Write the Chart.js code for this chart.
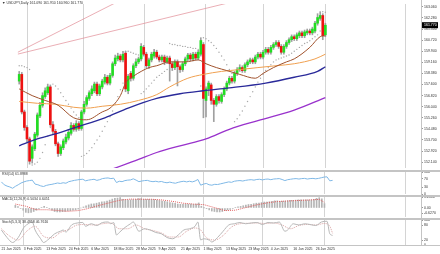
<!DOCTYPE html>
<html>
<head>
<meta charset="utf-8">
<script src="https://cdn.jsdelivr.net/npm/chart.js"></script>
<style>
body{margin:0;background:#fff;width:440px;height:254px;overflow:hidden;position:relative;font-family:"Liberation Sans",sans-serif}
canvas{position:absolute;left:0}
.sep{position:absolute;left:0;width:440px;height:2px;background:#c4c4c4}
.vsep{position:absolute;left:421px;top:0;width:1px;height:246px;background:#c4c4c4}
.lbl{position:absolute;left:2px;font-size:3.5px;color:#333;white-space:nowrap;line-height:5px}
</style>
</head>
<body>
<canvas id="cMain" width="440" height="172" style="top:0"></canvas>
<canvas id="cRsi" width="440" height="30" style="top:168px"></canvas>
<canvas id="cMacd" width="440" height="28" style="top:193px"></canvas>
<canvas id="cSto" width="440" height="38" style="top:216px"></canvas>
<div class="sep" style="top:170px"></div>
<div class="sep" style="top:195px"></div>
<div class="sep" style="top:218px"></div>
<div class="sep" style="top:245px;height:1px"></div>
<div class="vsep"></div>
<div class="lbl" id="tMain" style="top:1px"></div>
<div class="lbl" id="tRsi" style="top:172px"></div>
<div class="lbl" id="tMacd" style="top:197px"></div>
<div class="lbl" id="tSto" style="top:220px"></div>
<script>
// x axis
const tickIdx = [0, 8, 16, 24, 32, 40, 48, 56, 64, 72, 80, 88, 96, 104, 112];
const tickLabels = ['21 Jan 2025', '3 Feb 2025', '13 Feb 2025', '24 Feb 2025', '6 Mar 2025', '18 Mar 2025', '28 Mar 2025',
  '9 Apr 2025', '21 Apr 2025', '1 May 2025', '13 May 2025', '23 May 2025', '4 Jun 2025', '16 Jun 2025', '26 Jun 2025'];
const monthStarts = [8, 28, 50, 72, 93, 115, 144];
const priceTicks = [163.060, 162.280, 161.500, 160.720, 159.940, 159.160, 158.380, 157.600, 156.820, 156.040, 155.260, 154.480, 153.700, 152.920, 152.140];

// candles
const open = [157.84,158.31,155.67,154.58,153.77,152.41,153.09,154.04,155.39,156.14,156.75,157.02,157.43,154.78,154.31,153.43,
  152.75,153.16,153.56,153.84,154.17,154.72,154.45,154.85,154.51,155.67,156.21,156.62,156.95,157.16,157.63,156.95,157.43,157.77,158.11,157.70,
  158.24,159.06,159.40,159.60,159.33,159.80,157.16,158.38,158.04,158.92,159.19,159.40,160.21,159.73,158.92,159.33,159.60,
  159.87,159.53,159.33,159.53,159.19,159.46,159.06,158.79,159.19,158.85,158.65,159.06,159.40,159.67,159.40,159.73,159.46,
  159.73,160.41,156.48,157.29,157.57,156.48,156.21,156.75,156.41,156.89,157.29,157.70,158.04,157.84,158.38,158.65,158.79,158.58,158.99,159.19,
  159.33,159.19,159.53,159.73,159.53,159.87,160.07,159.87,160.21,160.41,160.55,160.28,159.87,160.28,160.55,160.75,160.96,160.82,161.03,161.23,
  161.03,161.23,161.36,161.23,161.36,161.91,162.25,162.45,161.09];
const high = [158.52,158.45,155.80,154.72,153.90,153.36,154.24,155.60,156.34,157.02,157.36,157.63,157.57,154.99,154.45,153.56,
  153.36,153.77,154.11,154.45,154.92,154.85,155.06,154.99,155.80,156.41,156.82,157.16,157.50,157.77,157.77,157.63,157.97,158.31,158.24,158.38,
  159.19,159.67,159.80,159.73,159.94,159.94,158.31,158.52,159.06,159.40,159.53,160.48,160.35,159.87,159.46,159.87,160.07,
  160.01,159.67,159.67,159.67,159.60,159.60,159.19,159.33,159.33,158.99,159.19,159.53,159.80,159.80,159.87,159.87,160.01,
  160.89,160.55,157.43,157.84,157.70,156.62,156.89,156.89,157.02,157.43,157.84,158.18,158.18,158.52,158.79,158.99,158.92,159.12,159.33,159.46,
  159.46,159.67,159.87,159.87,160.01,160.21,160.21,160.35,160.55,160.69,160.69,160.41,160.41,160.69,160.89,161.09,161.09,161.23,161.36,161.36,
  161.43,161.50,161.50,161.63,162.04,162.58,162.72,162.58,161.91];
const low = [157.63,155.53,154.38,153.56,152.00,152.07,152.95,153.90,155.26,156.00,156.62,156.89,154.65,154.11,153.29,152.55,
  152.61,153.02,153.43,153.70,154.04,154.31,154.31,154.38,154.38,155.53,156.07,156.48,156.82,157.02,156.82,156.82,157.29,157.63,157.57,157.57,
  158.11,158.92,159.26,159.19,159.19,157.09,156.95,157.84,157.90,158.79,159.06,159.26,159.60,158.79,158.72,159.19,159.46,
  159.40,159.19,159.19,158.99,159.06,157.84,158.58,158.65,157.50,158.45,158.52,158.92,159.26,159.26,159.26,159.33,159.33,
  159.60,155.26,155.32,156.82,156.21,154.99,156.07,156.28,156.28,156.75,157.16,157.57,157.70,157.70,158.24,158.52,158.45,158.45,158.85,159.06,
  159.06,159.06,159.40,159.40,159.40,159.73,159.73,159.73,160.07,160.28,160.14,159.73,159.73,160.14,160.41,160.62,160.69,160.69,160.89,160.89,
  160.89,161.09,161.09,161.09,161.23,161.77,162.11,160.75,160.96];
const close = [158.31,155.67,154.58,153.77,152.21,153.22,154.11,155.46,156.14,156.82,157.16,157.43,154.78,154.31,153.43,152.75,
  153.22,153.63,153.90,154.24,154.72,154.45,154.85,154.51,155.67,156.21,156.68,157.02,157.29,157.63,156.95,157.50,157.84,158.11,157.70,158.24,
  159.06,159.46,159.60,159.33,159.73,157.29,158.18,158.04,158.92,159.19,159.40,160.28,159.73,158.92,159.33,159.73,159.87,
  159.53,159.33,159.53,159.19,159.46,159.06,158.79,159.19,158.85,158.65,159.06,159.40,159.67,159.40,159.73,159.46,159.87,
  160.69,156.62,157.29,157.70,156.48,156.21,156.75,156.48,156.89,157.29,157.70,158.04,157.84,158.38,158.65,158.79,158.58,158.99,159.19,159.33,
  159.19,159.53,159.73,159.53,159.87,160.07,159.87,160.21,160.41,160.55,160.28,159.87,160.28,160.55,160.75,160.96,160.82,161.09,161.23,161.03,
  161.30,161.36,161.23,161.50,161.91,162.31,162.45,161.03,161.77];

// moving averages, [bar, value]
const maFast = [[0,157.29],[5,156.82],[10,156.48],[15,156.14],[21,155.26],[26,155.12],[32,155.67],[35,155.94],[39,156.82],[41,157.70],[44,158.18],
  [47,158.52],[50,158.79],[53,158.92],[58,159.19],[64,159.19],[69,159.33],[72,159.06],[76,158.79],[80,158.58],[85,158.31],[91,158.04],[94,158.38],
  [98,158.79],[103,159.19],[106,159.40],[112,160.21],[116,160.96],[118,161.03]];
const maMid = [[0,156.41],[7,156.28],[14,156.21],[21,156.00],[26,155.94],[32,156.07],[39,156.21],[46,156.48],[53,156.89],[58,157.43],[65,158.04],
  [71,158.31],[78,158.52],[85,158.65],[92,158.79],[99,158.92],[106,159.06],[114,159.40],[118,159.73]];
const maSlow = [[0,153.29],[7,153.77],[16,154.24],[23,154.65],[33,155.26],[42,155.94],[53,156.62],[62,156.95],[71,157.16],[81,157.36],[95,157.70],
  [106,158.11],[115,158.52],[118,158.85]];
const maLong = [[30,151.30],[35,151.60],[46,152.34],[53,152.82],[62,153.29],[72,153.77],[81,154.45],[92,155.06],[106,155.80],[118,156.68]];
const sar = [158.92,158.92,158.85,158.79,158.65,151.94,152.01,152.14,152.41,152.82,153.36,153.97,154.58,
  157.63,157.50,157.29,157.02,156.75,156.48,156.21,155.94,155.67,155.46,155.26,
  152.55,152.62,152.75,152.95,153.16,153.43,153.70,153.97,154.31,154.65,154.99,155.33,155.74,156.21,156.75,157.23,157.70,
  159.94,159.94,159.87,159.80,159.73,159.67,156.96,157.09,157.29,157.50,157.70,157.90,158.11,158.24,158.38,158.52,158.65,
  160.48,160.41,160.41,160.34,160.34,160.28,160.28,160.21,160.21,160.14,160.14,160.07,157.50,
  160.89,160.82,160.68,160.55,160.34,160.14,159.87,159.60,159.33,158.99,158.65,158.38,
  154.99,155.19,155.46,155.74,156.07,156.41,156.75,157.09,157.43,157.77,158.04,158.31,158.58,158.79,158.99,159.19,159.33,
  159.40,159.46,159.53,159.60,159.67,159.80,159.94,160.07,160.21,160.34,160.48,160.55,160.68,160.82,160.96,161.09,161.36,162.72,162.68];
const trend1 = [[-0.5,159.87],[60,165.46]];
const trend2 = [[-0.5,159.74],[100,164.20]];

// indicators
const rsi = [55,42,36,32,26,35,42,50,55,59,61,63,45,42,37,34,39,42,44,47,50,48,51,49,56,59,62,64,66,67,60,63,65,67,62,65,70,72,73,70,72,
  52,58,56,61,63,64,69,63,56,59,61,62,58,56,58,55,57,53,51,54,51,49,53,56,58,55,58,55,59,
  66,40,45,48,42,40,44,43,46,49,52,55,53,58,60,61,59,62,64,65,63,66,67,64,67,68,65,68,69,70,66,61,65,67,69,70,68,70,71,68,70,71,69,71,74,77,78,60,61.8988];
const rsiTicks = [100, 70, 30, 0];
const macd = [0.30,0.15,-0.05,-0.25,-0.50,-0.55,-0.50,-0.40,-0.25,-0.10,0.05,0.18,0.05,-0.08,-0.25,-0.40,-0.45,-0.45,-0.42,-0.38,-0.32,-0.30,-0.25,-0.22,
  -0.12,0.00,0.12,0.25,0.36,0.46,0.48,0.55,0.62,0.70,0.72,0.78,0.90,1.02,1.10,1.13,1.18,1.00,0.95,0.90,0.93,0.96,0.98,1.08,1.08,1.00,0.98,0.98,1.00,
  0.96,0.90,0.86,0.80,0.76,0.70,0.62,0.58,0.52,0.45,0.42,0.42,0.44,0.42,0.44,0.42,0.45,
  0.58,0.20,0.02,-0.08,-0.22,-0.35,-0.40,-0.45,-0.45,-0.40,-0.32,-0.22,-0.15,-0.05,0.05,0.14,0.18,0.26,0.34,0.40,0.43,0.49,0.55,0.57,0.62,0.68,0.68,
  0.72,0.77,0.82,0.82,0.77,0.78,0.80,0.84,0.88,0.88,0.90,0.93,0.92,0.93,0.94,0.92,0.93,1.00,1.10,1.18,1.05,0.5034];
const macdSignal = [[0,0.45],[4,0.20],[8,-0.20],[12,-0.20],[16,-0.28],[20,-0.38],[24,-0.30],[28,-0.05],[32,0.30],[36,0.60],[40,0.90],[44,1.02],[48,1.00],
  [52,1.00],[56,0.92],[60,0.76],[64,0.55],[68,0.45],[72,0.38],[76,0.05],[80,-0.30],[84,-0.25],[88,0.05],[92,0.35],[96,0.58],[100,0.74],[104,0.80],
  [108,0.86],[112,0.91],[116,0.98],[118,0.6451]];
const macdTicks = [1.258, 0, -0.627];
const stoMain = [[0,60],[2,30],[4,10],[6,30],[8,70],[10,88],[11,92],[12,60],[14,25],[15,10],[17,25],[19,45],[21,55],[22,60],[23,52],[25,80],[27,88],
  [29,90],[30,75],[32,85],[34,78],[36,90],[38,92],[39,85],[40,90],[41,40],[42,50],[44,70],[46,85],[47,92],[49,55],[51,65],[53,60],[55,50],[57,45],
  [59,30],[61,25],[63,40],[65,60],[67,65],[69,75],[70,92],[71,20],[72,25],[74,20],[75,12],[77,30],[79,55],[81,80],[83,85],[85,90],[87,85],[89,88],
  [91,90],[93,82],[95,90],[97,88],[99,92],[101,55],[102,60],[104,85],[106,80],[108,85],[110,82],[112,78],[114,92],[116,95],[117,45],[118,38.4958]];
const stoSignal = [[0,65],[3,35],[6,20],[9,55],[12,75],[15,35],[18,28],[21,50],[24,62],[27,80],[30,82],[33,80],[36,85],[39,88],[42,65],[45,65],
  [48,80],[51,65],[54,58],[57,48],[60,32],[63,32],[66,55],[69,68],[71,60],[73,30],[76,20],[79,38],[82,72],[85,85],[88,87],[91,88],[94,86],[97,88],
  [100,80],[103,65],[106,78],[109,82],[112,80],[115,86],[117,75],[118,46.7616]];
const stoTicks = [100, 80, 20, 0];

const FONT = {family: 'Liberation Sans', size: 3.5};
const pts = arr => arr.map(p => ({x: p[0], y: p[1]}));
const series = arr => arr.map((v, i) => ({x: i, y: v}));
const noPad = s => { s.paddingTop = 0; s.paddingBottom = 0; s.paddingLeft = 0; s.paddingRight = 0; };

function xScales(showLabels) {
  return {
    x: {
      type: 'linear', min: -0.5, max: 149.5,
      grid: {display: false, drawTicks: false}, border: {display: false},
      afterBuildTicks: s => { s.ticks = tickIdx.map(v => ({value: v})); },
      ticks: {display: showLabels, autoSkip: false, maxRotation: 0, align: 'start', padding: 2, font: FONT, color: '#333',
        callback: v => tickLabels[tickIdx.indexOf(v)]},
      afterFit: s => { s.height = showLabels ? 9 : 0; noPad(s); }
    },
    xg: {
      type: 'linear', min: -0.5, max: 149.5,
      afterBuildTicks: s => { s.ticks = monthStarts.map(v => ({value: v})); },
      grid: {color: '#d4d4d4', drawTicks: false}, border: {display: false},
      ticks: {display: false},
      afterFit: s => { s.height = 0; noPad(s); }
    }
  };
}

function yScale(min, max, ticks, fmt) {
  return {
    position: 'right', min: min, max: max,
    afterBuildTicks: s => { s.ticks = ticks.map(v => ({value: v})); },
    grid: {drawOnChartArea: false, tickLength: 2, color: '#999'},
    border: {display: false},
    ticks: {font: FONT, color: '#333', padding: 1, callback: fmt},
    afterFit: s => { s.width = 19; noPad(s); }
  };
}

const base = {
  responsive: false, animation: false, devicePixelRatio: 1,
  plugins: {legend: {display: false}, tooltip: {enabled: false}},
  elements: {point: {radius: 0}, line: {borderWidth: 1, tension: 0}}
};

const lastPrice = {
  id: 'lastPrice',
  afterDraw(chart) {
    const v = close[close.length - 1];
    const py = chart.scales.y.getPixelForValue(v);
    const ctx = chart.ctx;
    ctx.save();
    ctx.fillStyle = '#000';
    ctx.fillRect(chart.chartArea.right + 1, py - 3, 16, 6);
    ctx.fillStyle = '#fff';
    ctx.font = '3.5px "Liberation Sans"';
    ctx.textBaseline = 'middle';
    ctx.fillText(v.toFixed(3), chart.chartArea.right + 3, py);
    ctx.restore();
  }
};

const colors = close.map((c, i) => c >= open[i] ? '#22dd22' : '#ee1111');

new Chart(document.getElementById('cMain'), {
  data: {datasets: [
    {type: 'line', data: pts(maFast), borderColor: '#a0522d', order: 1, cubicInterpolationMode: 'monotone'},
    {type: 'line', data: pts(maMid), borderColor: '#f0a050', order: 1, cubicInterpolationMode: 'monotone'},
    {type: 'line', data: pts(maSlow), borderColor: '#2a2a9a', borderWidth: 1.3, order: 1, cubicInterpolationMode: 'monotone'},
    {type: 'line', data: pts(maLong), borderColor: '#9932cc', borderWidth: 1.3, order: 1, cubicInterpolationMode: 'monotone'},
    {type: 'scatter', data: series(sar), pointRadius: 0.7, pointBackgroundColor: '#a8a8a8', pointBorderWidth: 0, order: 2},
    {type: 'bar', data: open.map((o, i) => ({x: i, y: [o, close[i]]})), backgroundColor: colors, barThickness: 2, grouped: false, order: 3},
    {type: 'bar', data: low.map((l, i) => ({x: i, y: [l, high[i]]})), backgroundColor: '#a0a0a0', barThickness: 1, grouped: false, order: 4},
    {type: 'line', data: pts(trend1), borderColor: 'rgba(225,140,150,0.7)', order: 5},
    {type: 'line', data: pts(trend2), borderColor: 'rgba(225,140,150,0.7)', order: 5}
  ]},
  options: Object.assign({}, base, {
    layout: {padding: {top: 0, bottom: 2, left: 0, right: 0}},
    scales: Object.assign(xScales(false), {y: yScale(151.73, 163.26, priceTicks, v => v.toFixed(3))})
  }),
  plugins: [lastPrice]
});

new Chart(document.getElementById('cRsi'), {
  data: {datasets: [
    {type: 'line', data: series(rsi), borderColor: '#7fb8e6'}
  ]},
  options: Object.assign({}, base, {
    layout: {padding: {top: 4, bottom: 4, left: 0, right: 0}},
    scales: Object.assign(xScales(false), {y: yScale(0, 100, rsiTicks, v => String(v))})
  })
});

new Chart(document.getElementById('cMacd'), {
  data: {datasets: [
    {type: 'line', data: pts(macdSignal), borderColor: '#e06060', borderDash: [1, 1], order: 1},
    {type: 'bar', data: series(macd), backgroundColor: '#b4b4b4', barThickness: 1, grouped: false, order: 2}
  ]},
  options: Object.assign({}, base, {
    layout: {padding: {top: 4, bottom: 4, left: 0, right: 0}},
    scales: Object.assign(xScales(false), {y: yScale(-1.03, 1.258, macdTicks, v => v === 0 ? '0.00' : v.toFixed(4))})
  })
});

new Chart(document.getElementById('cSto'), {
  data: {datasets: [
    {type: 'line', data: pts(stoMain), borderColor: '#b8b8b8', cubicInterpolationMode: 'monotone'},
    {type: 'line', data: pts(stoSignal), borderColor: '#d8a0a0', borderDash: [1, 1], cubicInterpolationMode: 'monotone'}
  ]},
  options: Object.assign({}, base, {
    layout: {padding: {top: 4, bottom: 0, left: 0, right: 0}},
    scales: Object.assign(xScales(true), {y: yScale(0, 100, stoTicks, v => String(v))})
  })
});

const n = close.length - 1;
document.getElementById('tMain').textContent = '\u25BC USDJPY,Daily  ' + [open[n], high[n], low[n], close[n]].map(v => v.toFixed(3)).join(' ');
document.getElementById('tRsi').textContent = 'RSI(14) ' + rsi[n].toFixed(4);
document.getElementById('tMacd').textContent = 'MACD(12,26,9) ' + macd[n].toFixed(4) + ' ' + macdSignal[macdSignal.length - 1][1].toFixed(4);
document.getElementById('tSto').textContent = 'Stoch(5,3,3) ' + stoMain[stoMain.length - 1][1].toFixed(4) + ' ' + stoSignal[stoSignal.length - 1][1].toFixed(4);
</script>
</body>
</html>
